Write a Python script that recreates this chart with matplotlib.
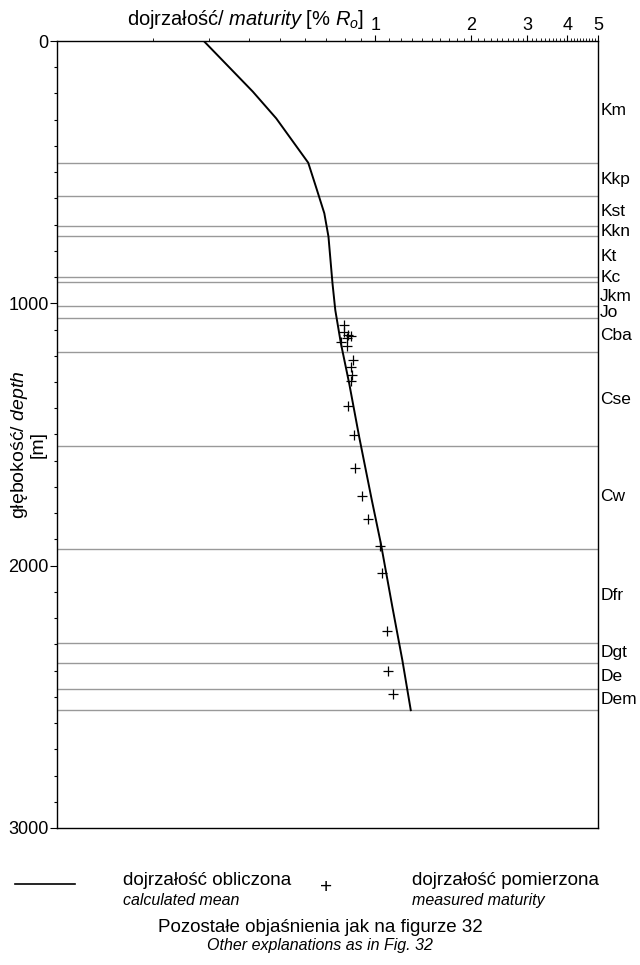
import matplotlib
matplotlib.use('Agg')
import matplotlib.pyplot as plt
from matplotlib.ticker import FixedLocator, NullFormatter, FixedFormatter
import numpy as np

plt.rcParams['font.family'] = ['Liberation Sans', 'DejaVu Sans']
plt.rcParams['mathtext.fontset'] = 'custom'
plt.rcParams['mathtext.rm'] = 'Liberation Sans'
plt.rcParams['mathtext.it'] = 'Liberation Sans:italic'

# calculated maturity curve
calc_depth = [0, 193, 295, 464, 560, 657, 746, 924, 1026, 1153, 1305, 1509, 1750, 1916, 2157, 2361, 2551]
calc_ro = [0.289, 0.412, 0.488, 0.615, 0.652, 0.691, 0.712, 0.733, 0.748, 0.779, 0.827, 0.889, 0.974,
           1.040, 1.130, 1.215, 1.291]

# measured maturity
meas_depth = [1083, 1110, 1121, 1125, 1133, 1148, 1163, 1217, 1243, 1274, 1297, 1392, 1503, 1629,
              1735, 1823, 1926, 2029, 2250, 2403, 2490]
meas_ro = [0.798, 0.798, 0.821, 0.839, 0.816, 0.781, 0.816, 0.851, 0.839, 0.845, 0.839, 0.821, 0.858,
           0.864, 0.909, 0.949, 1.034, 1.049, 1.088, 1.096, 1.136]

# stratigraphic boundaries and units
boundaries = [464, 590, 707, 744, 901, 920, 1010, 1056, 1187, 1542, 1935, 2293, 2371, 2471, 2551]
units = ['Km', 'Kkp', 'Kst', 'Kkn', 'Kt', 'Kc', 'Jkm', 'Jo', 'Cba', 'Cse', 'Cw', 'Dfr', 'Dgt', 'De', 'Dem']
unit_depth = [263, 528, 650, 728, 822, 901, 973, 1035, 1122, 1365, 1738, 2114, 2332, 2421, 2511]

x_ticks = [1, 2, 3, 4, 5]
y_ticks = [0, 1000, 2000, 3000]

fig = plt.figure(figsize=(6.4, 9.65), dpi=100)
ax = fig.add_axes([0.0891, 0.142, 0.8453, 0.8155])

for b in boundaries:
    ax.axhline(b, color='#999999', lw=1.0, zorder=1)

ax.plot(calc_ro, calc_depth, color='black', lw=1.4, zorder=3)
ax.plot(meas_ro, meas_depth, ls='none', marker='+', ms=7, mew=0.9, color='black', zorder=4)

ax.set_xscale('log')
ax.set_xlim(0.1, 5)
ax.set_ylim(3000, 0)

ax.xaxis.tick_top()
ax.xaxis.set_major_locator(FixedLocator(x_ticks))
ax.xaxis.set_major_formatter(FixedFormatter([str(t) for t in x_ticks]))
minor = [i / 10 for i in range(2, 10)] + [i / 10 for i in range(11, 50) if i % 10 != 0]
ax.xaxis.set_minor_locator(FixedLocator(minor))
ax.xaxis.set_minor_formatter(NullFormatter())
ax.tick_params(axis='x', which='major', length=4, width=0.8, labelsize=13, pad=1)
ax.tick_params(axis='x', which='minor', length=2, width=0.6)

ax.yaxis.set_major_locator(FixedLocator(y_ticks))
ax.yaxis.set_minor_locator(FixedLocator(range(100, 3000, 100)))
ax.tick_params(axis='y', which='major', length=5, width=0.8, labelsize=13, pad=1)
ax.tick_params(axis='y', which='minor', length=2.5, width=0.8)
for s in ax.spines.values():
    s.set_linewidth(1.0)

fig.text(0.383, 0.980, r'dojrzałość/ $\mathit{maturity}$ [% $\mathit{R}_\mathit{o}$]',
         ha='center', va='center', fontsize=14.5)

for name, d in zip(units, unit_depth):
    ax.text(1.004, d, name, transform=ax.get_yaxis_transform(), ha='left', va='center', fontsize=12.5)

fig.text(0.043, 0.539, 'głębokość/ $\\mathit{depth}$\n[m]', rotation=90, ha='center', va='center',
         multialignment='center', fontsize=14, linespacing=1.0)

# legend
fig.add_artist(plt.Line2D([0.023, 0.117], [0.084, 0.084], color='black', lw=1.2))
fig.text(0.192, 0.088, 'dojrzałość obliczona', ha='left', va='center', fontsize=13.5)
fig.text(0.192, 0.067, 'calculated mean', ha='left', va='center', fontsize=11.5, style='italic')
fig.text(0.51, 0.080, '+', ha='center', va='center', fontsize=15)
fig.text(0.644, 0.088, 'dojrzałość pomierzona', ha='left', va='center', fontsize=13.5)
fig.text(0.644, 0.067, 'measured maturity', ha='left', va='center', fontsize=11.5, style='italic')
fig.text(0.5, 0.039, 'Pozostałe objaśnienia jak na figurze 32', ha='center', va='center', fontsize=13.5)
fig.text(0.5, 0.020, 'Other explanations as in Fig. 32', ha='center', va='center', fontsize=11.5,
         style='italic')

fig.savefig('out.png', dpi=100)
